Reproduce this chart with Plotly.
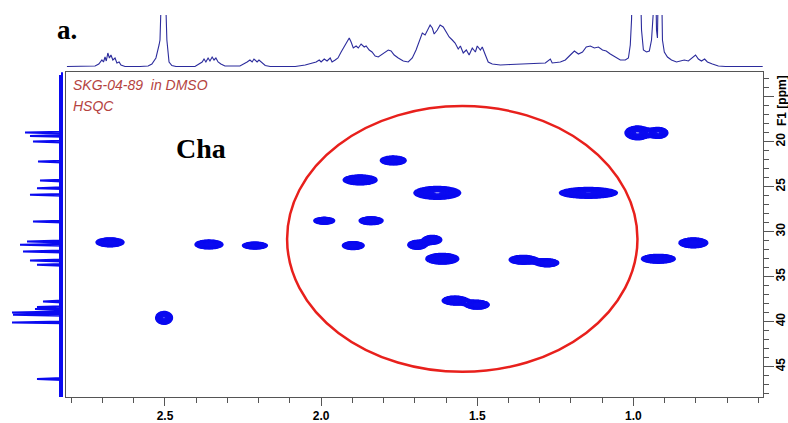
import numpy as np
import plotly.graph_objects as go

# ---------------- data ----------------
# HSQC cross peaks: 1H shift, 13C shift, 1H extent, 13C extent (ppm)
peak_h_ppm = [2.676, 2.359, 2.212, 2.503, 1.769, 1.875, 1.628, 1.990, 1.840, 1.897,
              1.692, 1.644, 1.612, 1.571, 1.500, 0.987, 0.920, 1.144, 1.353, 1.276,
              0.920, 0.808]
peak_c_ppm = [31.20, 31.44, 31.56, 39.60, 22.10, 24.26, 25.70, 28.80, 28.80, 31.56,
              31.48, 30.92, 33.03, 37.67, 38.14, 19.03, 19.03, 25.70, 33.14, 33.48,
              33.03, 31.26]
peak_h_width = [0.087, 0.087, 0.077, 0.051, 0.080, 0.106, 0.147, 0.064, 0.074, 0.067,
                0.058, 0.058, 0.103, 0.080, 0.074, 0.077, 0.058, 0.183, 0.087, 0.071,
                0.106, 0.090]
peak_c_width = [0.89, 0.89, 0.67, 1.33, 0.89, 1.00, 1.33, 0.67, 0.78, 0.78,
                0.89, 0.89, 1.10, 0.89, 0.89, 1.44, 1.10, 1.10, 0.89, 0.78,
                0.89, 1.00]

# 1H projection (top trace): shift (ppm) and intensity
top_ppm = [2.814, 2.772, 2.724, 2.712, 2.705, 2.702, 2.697, 2.692, 2.688, 2.683,
           2.678, 2.673, 2.667, 2.660, 2.654, 2.647, 2.641, 2.628, 2.580, 2.554,
           2.542, 2.529, 2.519, 2.516, 2.510, 2.500, 2.494, 2.487, 2.478, 2.465,
           2.404, 2.391, 2.381, 2.375, 2.369, 2.362, 2.356, 2.349, 2.343, 2.337,
           2.330, 2.321, 2.308, 2.260, 2.247, 2.237, 2.228, 2.221, 2.215, 2.205,
           2.199, 2.189, 2.179, 2.163, 2.083, 2.051, 2.029, 2.016, 2.006, 2.000,
           1.990, 1.981, 1.971, 1.965, 1.955, 1.946, 1.936, 1.923, 1.910, 1.904,
           1.897, 1.888, 1.881, 1.872, 1.862, 1.856, 1.846, 1.837, 1.827, 1.817,
           1.808, 1.795, 1.785, 1.776, 1.766, 1.753, 1.737, 1.721, 1.708, 1.696,
           1.686, 1.676, 1.667, 1.657, 1.651, 1.644, 1.638, 1.628, 1.619, 1.609,
           1.599, 1.590, 1.580, 1.571, 1.561, 1.554, 1.545, 1.535, 1.526, 1.516,
           1.506, 1.500, 1.490, 1.484, 1.474, 1.465, 1.452, 1.426, 1.394, 1.362,
           1.330, 1.282, 1.266, 1.260, 1.234, 1.218, 1.202, 1.189, 1.176, 1.163,
           1.151, 1.138, 1.125, 1.112, 1.099, 1.087, 1.074, 1.058, 1.042, 1.026,
           1.016, 1.010, 1.006, 1.003, 0.978, 0.974, 0.968, 0.958, 0.949, 0.942,
           0.939, 0.929, 0.926, 0.923, 0.920, 0.910, 0.907, 0.901, 0.891, 0.878,
           0.862, 0.849, 0.837, 0.824, 0.811, 0.801, 0.792, 0.782, 0.772, 0.763,
           0.747, 0.728, 0.705, 0.586]
top_int = [0.5, 0.5, 1, 3, 6, 7, 5, 10, 6, 14,
           9, 12, 7, 9, 4, 5, 2, 0.5, 0.5, 1,
           3, 9, 22, 27, 90, 90, 27, 5, 1.5, 0.5,
           0.5, 3, 5, 8, 5, 9, 6, 10, 7, 9,
           5, 3, 1, 1, 3, 5, 7, 5, 8, 5,
           7, 4, 1.5, 0.5, 0.5, 2, 4, 5, 7, 5,
           8, 6, 9, 5, 7, 9, 15, 22, 29, 25,
           19, 21, 19, 23, 20, 21, 17, 15, 11, 10,
           12, 15, 17, 16, 12, 9, 6, 5, 9, 17,
           25, 34, 32, 39, 42, 39, 33, 37, 42, 40,
           35, 30, 27, 24, 18, 21, 14, 17, 12, 19,
           15, 21, 17, 20, 12, 5, 3, 2, 2.5, 3,
           3.5, 4, 8, 4, 5, 7, 12, 16, 13, 15,
           20, 21, 19, 20, 17, 16, 13, 10, 7, 7,
           9, 22, 47, 90, 90, 37, 17, 15, 16, 27,
           90, 90, 37, 29, 90, 90, 27, 15, 10, 7,
           5, 6, 7, 6, 9, 12, 8, 6, 8, 5,
           3, 1, 0.5, 0.5]

# 13C projection (left trace): shift (ppm) and intensity
left_ppm = [19.00, 19.37, 20.00, 22.22, 24.33, 25.18, 25.92, 28.89, 31.11, 31.48,
            32.22, 33.22, 33.70, 37.78, 38.40, 38.62, 39.00, 39.26, 40.11, 46.40]
left_int = [37, 32, 29, 24, 22, 25, 32, 29, 35, 42,
            39, 32, 25, 19, 25, 27, 50, 49, 50, 25]

x_tickvals = [2.5, 2.0, 1.5, 1.0]
x_ticktext = ['2.5', '2.0', '1.5', '1.0']
y_tickvals = [15, 20, 25, 30, 35, 40, 45]
y_ticktext = ['', '20', '25', '30', '35', '40', '45']

# ---------------- build ----------------
xg = np.arange(0.58, 2.83, 0.004)
yg = np.arange(12.0, 48.6, 0.1)
X, Y = np.meshgrid(xg, yg)
Z = np.zeros_like(X)
k = 1.552
for hx, cy, wx, wy in zip(peak_h_ppm, peak_c_ppm, peak_h_width, peak_c_width):
    sx = wx / 2 / k
    sy = wy / 2 / k
    Z += np.exp(-((X - hx) ** 2) / (2 * sx ** 2) - ((Y - cy) ** 2) / (2 * sy ** 2))
Z = np.clip(Z, 0, 1).astype(np.float32)

blue = '#0a0af0'
fig = go.Figure()
fig.add_trace(go.Contour(
    x=xg, y=yg, z=Z, xaxis='x', yaxis='y',
    contours=dict(start=0.3, end=0.96, size=0.045, coloring='lines'),
    colorscale=[[0, blue], [1, blue]], line=dict(width=2.2),
    showscale=False, hoverinfo='skip'))

fig.add_trace(go.Scatter(
    x=top_ppm, y=top_int, xaxis='x', yaxis='y2', mode='lines',
    line=dict(color='#2b2b9c', width=1.1), hoverinfo='skip', showlegend=False))

# left projection: baseline band + spikes
order = np.argsort(left_ppm)
lx, ly = [0.0], [12.3]
for i in order:
    p, h = left_ppm[i], left_int[i]
    lx += [0.0, h, 0.0]
    ly += [p - 0.1, p, p + 0.1]
lx.append(0.0)
ly.append(48.4)
fig.add_trace(go.Scatter(
    x=[1, 1], y=[12.6, 48.4], xaxis='x3', yaxis='y', mode='lines',
    line=dict(color=blue, width=4), hoverinfo='skip', showlegend=False))
fig.add_trace(go.Scatter(
    x=lx, y=ly, xaxis='x3', yaxis='y', mode='lines',
    line=dict(color=blue, width=2), hoverinfo='skip', showlegend=False))

W, H = 788, 423
axis_font = dict(family='Arial, Liberation Sans, sans-serif', size=12, color='black', weight='bold')
fig.update_layout(
    width=W, height=H, margin=dict(l=0, r=0, t=0, b=0),
    plot_bgcolor='white', paper_bgcolor='white', showlegend=False,
    xaxis=dict(domain=[66 / W, 763 / W], range=[2.817, 0.585], anchor='y',
               showline=True, mirror=True, linecolor='#555', linewidth=1,
               ticks='outside', ticklen=8, tickcolor='#555',
               tickmode='array', tickvals=x_tickvals, ticktext=x_ticktext,
               tickfont=axis_font, automargin=False,
               minor=dict(dtick=0.1, tick0=0, ticks='outside', ticklen=5, tickcolor='#555'),
               showgrid=False, zeroline=False),
    yaxis=dict(domain=[1 - 397 / H, 1 - 72 / H], range=[48.4, 12.26], anchor='x',
               side='right', showline=True, mirror=True, linecolor='#555', linewidth=1,
               ticks='outside', ticklen=10, tickcolor='#555',
               tickmode='array', tickvals=y_tickvals, ticktext=y_ticktext,
               tickangle=-90, tickfont=axis_font, automargin=False,
               ticklabelstandoff=-3,
               minor=dict(dtick=1, tick0=0, ticks='outside', ticklen=5, tickcolor='#555'),
               showgrid=False, zeroline=False),
    yaxis2=dict(domain=[1 - 68 / H, 1 - 15 / H], range=[-1, 52], anchor='x', visible=False),
    xaxis3=dict(domain=[7 / W, 65 / W], range=[55, -3], anchor='y', visible=False),
)

fig.add_shape(type='circle', xref='x', yref='y', x0=2.109, x1=0.987, y0=16.05, y1=45.6,
              line=dict(color='#e8201c', width=2.5), layer='above')

serif = 'Times New Roman, Liberation Serif, serif'
fig.add_annotation(text='<b>a.</b>', x=67 / W, y=1 - 30 / H, xref='paper', yref='paper',
                   xanchor='center', yanchor='middle',
                   showarrow=False, font=dict(family=serif, size=27, color='black'))
fig.add_annotation(text='<b>Cha</b>', x=201 / W, y=1 - 149 / H, xref='paper', yref='paper',
                   xanchor='center', yanchor='middle',
                   showarrow=False, font=dict(family=serif, size=28, color='black'))
label_font = dict(family='Arial, Liberation Sans, sans-serif', size=14, color='#b5433f')
fig.add_annotation(text='<i>SKG-04-89\u00a0 in DMSO</i>', x=71 / W, y=1 - 85 / H,
                   xref='paper', yref='paper', xanchor='left', yanchor='middle',
                   showarrow=False, font=label_font)
fig.add_annotation(text='<i>HSQC</i>', x=71 / W, y=1 - 106 / H,
                   xref='paper', yref='paper', xanchor='left', yanchor='middle',
                   showarrow=False, font=label_font)
fig.add_annotation(text='F1 [ppm]', x=782 / W, y=1 - 101 / H, xref='paper', yref='paper',
                   xanchor='center', yanchor='middle',
                   textangle=-90, showarrow=False, font=axis_font)

fig.write_html('out.html', config={'displayModeBar': False},
               post_script="document.body.style.margin='0';document.body.style.overflow='hidden';")
